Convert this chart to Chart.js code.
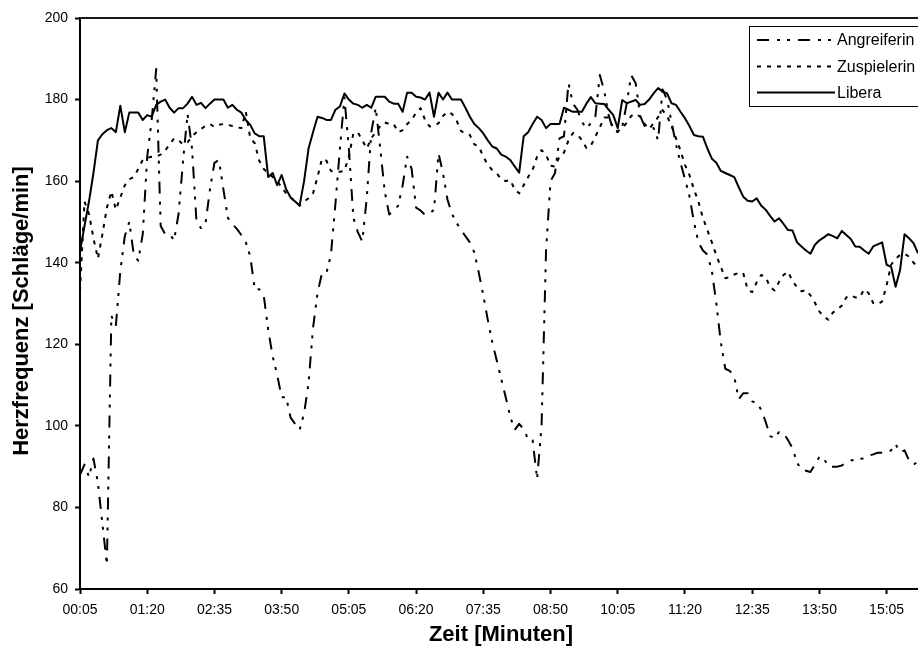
<!DOCTYPE html>
<html>
<head>
<meta charset="utf-8">
<script src="https://cdn.jsdelivr.net/npm/chart.js@4.4.1/dist/chart.umd.min.js"></script>
<style>
html,body{margin:0;padding:0;background:#ffffff;}
#wrap{width:918px;height:651px;position:relative;overflow:hidden;}
</style>
</head>
<body>
<div id="wrap"><canvas id="c" width="918" height="651"></canvas></div>
<script>
// ---- data ----
const startSec = 5;      // first sample at 00:05
const stepSec = 5;       // one heart-rate sample every 5 s
const tickLabels = ['00:05','01:20','02:35','03:50','05:05','06:20','07:35','08:50','10:05','11:20','12:35','13:50','15:05'];
const yTicks = [60, 80, 100, 120, 140, 160, 180, 200];
const seriesNames = ['Angreiferin', 'Zuspielerin', 'Libera'];
const xTitle = 'Zeit [Minuten]';
const yTitle = 'Herzfrequenz [Schläge/min]';

const angreiferin = [
 88,90.5,87.5,92,86,76,66,127,124.5,138,
 146.5,150,142,140.5,147,166,175,187.5,149,147,
 147,145.5,152,165,176.5,168,150,148.5,149.5,158,
 164.5,165.2,158,151,149.5,148.3,146.8,145,141.5,133.5,
 133.5,132,123.5,117,112.5,107,107,102,100.5,99,
 103,110.5,124,132.5,137.5,137.5,142,154.5,168,180.5,
 168,151,147.5,145.2,156,172,178,168,157.5,151.8,
 152.7,154,159,166,163,153.5,152.8,151.7,152,153,
 166.8,162,155.5,152,149.8,148.2,146.5,145,142.5,137.5,
 132,126,120.5,116,111.5,107,102.3,99,100.5,99.2,
 96.7,96.5,87,100,143,160,162,170.5,171,184,
 179,177.5,174.5,173,174.2,175.8,186,182,176,172.5,
 172,173.3,179,186,184,176,173.5,173.5,173,170,
 182.5,180,174.5,169,164.5,160.5,156.3,150,145,143,
 142,138,130,120.5,114,113.5,112,106.5,108,108,
 106,105.6,104,101,97.5,97,98.5,98.2,96.5,94.5,
 91,89.2,89,88.7,90.5,92.4,92,90,90,90,
 90.3,90.9,91.5,91.7,91.9,92,92.7,93,93.4,93.4,
 93.4,94,95.5,93.5,94,91.5,90.5,91.2
];
const zuspielerin = [
 133,155,152,146,141,147,153.5,157.5,153,156,
 159,160.5,161,163,165.2,165.7,166,166,166.5,167.5,
 169,170.5,170,169,169.5,171,172,172.8,173.5,174,
 173.3,173.8,174,173.8,173.5,173.2,173,177,170.5,169.3,
 165,163,162,161,160,158.5,157,156,155,154,
 155,155.8,157,161,165.5,165,162.5,162.3,162.3,162.5,
 166,171.7,172,170,168,170.5,172,173.5,174.4,174,
 174,172,172.5,174,175,176.8,177.9,175,173.4,173.6,
 174.2,176,177,176.5,175,172.3,171.7,171.3,169,168.5,
 166,164,162.7,161.9,160.5,160,160.3,158,157,159,
 161,162.8,166,167.6,166.5,163.8,163.6,166,167,170,
 171.8,171.4,170.1,168.1,168.7,170.9,173.2,175.6,175.6,173,
 172.2,173,174.3,176,176.5,175.8,174,172.8,174.2,175.7,
 177.4,176,173.5,170.5,167.5,164,161.5,158,155,151,
 148,145,141.8,139,136.2,136.5,137.1,137.5,137.5,133.3,
 132.8,135.2,137,136.5,134,133.2,135.3,137,137.8,135.5,
 134,133,133.3,132,130.2,128,126.8,126,127.8,128.5,
 129.5,131.5,132,131.5,131.5,133.5,132.5,130.1,129.8,130.5,
 134.5,139.5,141,141.9,142.2,141.5,140,139
];
const libera = [
 142.7,149,155,162,170,171.5,172.5,173,172,178.5,
 172,176.8,176.8,176.8,175,176.2,175.8,178.7,179.5,180,
 178,176.8,177.9,177.9,179,180.7,178.7,179.2,177.9,179,
 180,180,180,178,178.7,177.5,176.8,175,173.8,171.7,
 171,171,161,162,159,161.5,158,156,155,154,
 160,168,172,175.8,175.5,175,175,177.5,178.3,181.5,
 180,179,178.7,178,178.7,178,180.7,180.7,180.7,179.5,
 179,179,177,181.7,181.7,180.7,180.5,180,181.7,175.8,
 181.7,180,181.7,180,180,180,178,175.8,174,173,
 171.7,170,168.5,168,166.5,166,165.2,163.6,162.1,171,
 172,174,175.8,175,173,174,174,174,178,177.5,
 177,177,177,179,180.6,179.1,179,178.9,177.5,176.2,
 173,179.9,179.1,179.5,179.9,178.7,178.9,180,181.5,182.8,
 182,181.5,179.1,178.7,177,175.4,173.5,171.3,171,170.9,
 168,165.5,164.5,162.5,162,161.5,161,158.5,156.2,155.2,
 155,155.8,154,153,151.5,150.1,150.9,149.5,148,147.9,
 145,144,143,142.2,144.4,145.5,146.2,147,146.5,146,
 147.8,146.8,145.8,144,143.9,143,142.2,144,144.5,145,
 139.5,139,134.1,138.2,147,146,144.8,142.3
];

// category labels (mm:ss of each sample)
const pad2 = n => String(n).padStart(2, '0');
const categories = libera.map((_, i) => {
  const s = startSec + i * stepSec;
  return pad2(Math.floor(s / 60)) + ':' + pad2(s % 60);
});

const FONT = '"Liberation Sans", Arial, sans-serif';

const decor = {
  id: 'decor',
  beforeDatasetsDraw(chart) {
    const {ctx, chartArea: a} = chart;
    ctx.save();
    ctx.strokeStyle = '#1a1a1a';
    ctx.lineWidth = 2;
    ctx.beginPath();
    ctx.moveTo(a.left, a.top);
    ctx.lineTo(a.right + 4, a.top);
    ctx.stroke();
    ctx.restore();
  },
  afterDraw(chart) {
    const {ctx} = chart;
    ctx.save();
    // axis titles
    ctx.fillStyle = '#000';
    ctx.font = 'bold 22px ' + FONT;
    ctx.textAlign = 'center';
    ctx.textBaseline = 'middle';
    ctx.fillText(xTitle, 501, 635);
    ctx.save();
    ctx.translate(22, 311);
    ctx.rotate(-Math.PI / 2);
    ctx.fillText(yTitle, 0, 0);
    ctx.restore();

    // legend box
    const bx = 749.5, by = 26.5, bw = 200, bh = 80;
    ctx.fillStyle = '#fff';
    ctx.fillRect(bx, by, bw, bh);
    ctx.strokeStyle = '#000';
    ctx.lineWidth = 1;
    ctx.strokeRect(bx, by, bw, bh);
    const rows = [40, 66.5, 92.5];
    ctx.font = '16px ' + FONT;
    ctx.textAlign = 'left';
    ctx.textBaseline = 'middle';
    chart.data.datasets.forEach((ds, i) => {
      const y = rows[i];
      ctx.save();
      ctx.strokeStyle = ds.borderColor;
      ctx.lineWidth = ds.borderWidth;
      ctx.setLineDash(ds.borderDash || []);
      ctx.beginPath();
      ctx.moveTo(757, y);
      ctx.lineTo(835, y);
      ctx.stroke();
      ctx.restore();
      ctx.fillStyle = '#000';
      ctx.fillText(ds.label, 837, y + 1);
    });
    ctx.restore();
  }
};

new Chart(document.getElementById('c'), {
  type: 'line',
  data: {
    labels: categories,
    datasets: [
      { label: seriesNames[0], data: angreiferin, borderColor: '#000', borderWidth: 2,
        borderDash: [12, 8, 3, 7, 3, 8], pointRadius: 0, tension: 0, fill: false },
      { label: seriesNames[1], data: zuspielerin, borderColor: '#000', borderWidth: 2,
        borderDash: [4, 6], pointRadius: 0, tension: 0, fill: false },
      { label: seriesNames[2], data: libera, borderColor: '#000', borderWidth: 2,
        borderDash: [], pointRadius: 0, tension: 0, fill: false }
    ]
  },
  options: {
    responsive: false,
    animation: false,
    devicePixelRatio: 1,
    layout: { padding: { top: 18, right: 0, left: 0, bottom: 0 } },
    elements: { line: { borderJoinStyle: 'round', borderCapStyle: 'butt' } },
    plugins: { legend: { display: false }, tooltip: { enabled: false }, title: { display: false } },
    scales: {
      x: {
        type: 'category',
        offset: false,
        afterBuildTicks(scale) {
          scale.ticks = tickLabels.map(l => ({ value: categories.indexOf(l) }));
        },
        afterFit(scale) { scale.height = 62; },
        ticks: {
          autoSkip: false, maxRotation: 0, minRotation: 0,
          color: '#000', font: { family: FONT, size: 14 }, padding: 8,
          callback: (v) => categories[v]
        },
        grid: { display: true, drawOnChartArea: false, drawTicks: true, tickLength: 5, tickColor: '#000', tickWidth: 2 },
        border: { display: true, color: '#000', width: 2 }
      },
      y: {
        min: 60, max: 200,
        afterBuildTicks(scale) { scale.ticks = yTicks.map(v => ({ value: v })); },
        afterFit(scale) { scale.width = 80; },
        ticks: { color: '#000', font: { family: FONT, size: 14 }, padding: 7 },
        grid: { display: true, drawOnChartArea: false, drawTicks: true, tickLength: 5, tickColor: '#000', tickWidth: 2 },
        border: { display: true, color: '#000', width: 2 }
      }
    }
  },
  plugins: [decor]
});
</script>
</body>
</html>
